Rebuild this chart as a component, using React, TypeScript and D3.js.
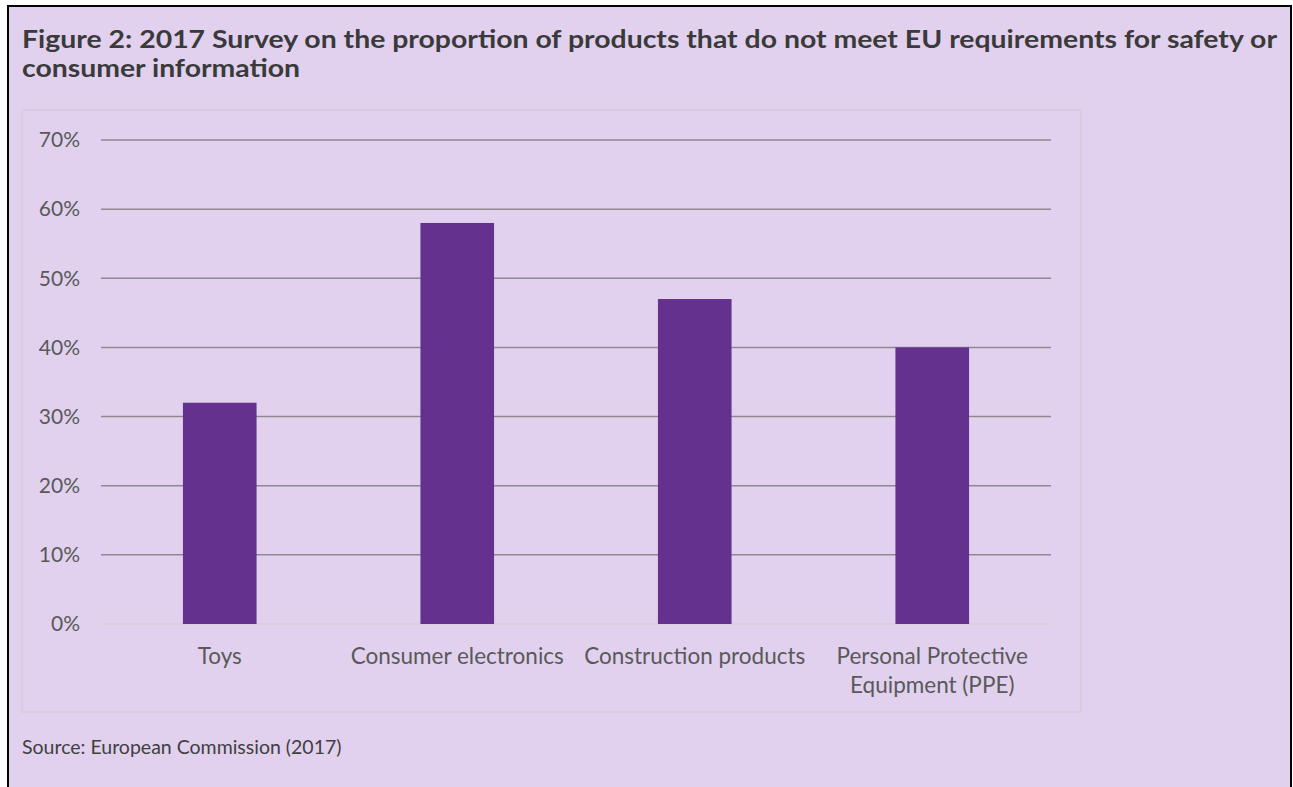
import React from "react";
import * as d3 from "d3";

const categories: string[][] = [
  ["Toys"],
  ["Consumer electronics"],
  ["Construction products"],
  ["Personal Protective", "Equipment (PPE)"],
];
const values: number[] = [0.32, 0.58, 0.47, 0.4];
const yTicks: number[] = [0, 0.1, 0.2, 0.3, 0.4, 0.5, 0.6, 0.7];
const titleLines: string[] = [
  "Figure 2: 2017 Survey on the proportion of products that do not meet EU requirements for safety or",
  "consumer information",
];
const titleWidths: number[] = [1255, 278];
const sourceText = "Source: European Commission (2017)";

const W = 1293;
const H = 787;
const FONT = "Lato, 'Open Sans', sans-serif";

export default function App() {
  const x = d3
    .scaleBand<number>()
    .domain(d3.range(categories.length))
    .range([101, 1051])
    .paddingInner(0.69)
    .paddingOuter(0.345);
  const y = d3.scaleLinear().domain([0, 0.7]).range([624, 140]);
  const fmt = d3.format(".0%");

  return (
    <svg
      width={W}
      height={H}
      style={{ position: "absolute", left: 0, top: 0 }}
    >
      <rect x={0} y={0} width={W} height={H} fill="#ffffff" />
      <rect x={8} y={6} width={1283} height={H} fill="#E1D1EE" stroke="#000" strokeWidth={2} />
      {titleLines.map((t, i) => (
        <text
          key={i}
          x={22}
          y={48 + i * 29}
          fontFamily={FONT}
          fontWeight={700}
          fontSize={25}
          fill="#3a3a3a"
          textLength={titleWidths[i]}
          lengthAdjust="spacingAndGlyphs"
        >
          {t}
        </text>
      ))}
      <rect x={22} y={110} width={1059} height={602} fill="none" stroke="#d4cbd9" strokeWidth={1.5} />
      {yTicks.map((t) => (
        <g key={t}>
          <line
            x1={101}
            x2={1051}
            y1={y(t)}
            y2={y(t)}
            stroke={t === 0 ? "#d4d0d6" : "#8e8a90"}
            strokeWidth={1.5}
          />
          <text
            x={80}
            y={y(t)}
            dy="0.35em"
            textAnchor="end"
            fontFamily={FONT}
            fontSize={21}
            fill="#595959"
          >
            {fmt(t)}
          </text>
        </g>
      ))}
      {values.map((v, i) => (
        <rect
          key={i}
          x={x(i)}
          y={y(v)}
          width={x.bandwidth()}
          height={y(0) - y(v)}
          fill="#65318F"
        />
      ))}
      {categories.map((lines, i) => (
        <text
          key={i}
          x={(x(i) as number) + x.bandwidth() / 2}
          y={656}
          textAnchor="middle"
          fontFamily={FONT}
          fontSize={22.5}
          fill="#595959"
        >
          {lines.map((l, j) => (
            <tspan key={j} x={(x(i) as number) + x.bandwidth() / 2} dy={j === 0 ? "0.35em" : 29}>
              {l}
            </tspan>
          ))}
        </text>
      ))}
      <text x={22} y={747} dy="0.35em" fontFamily={FONT} fontSize={19.5} fill="#404040">
        {sourceText}
      </text>
    </svg>
  );
}
